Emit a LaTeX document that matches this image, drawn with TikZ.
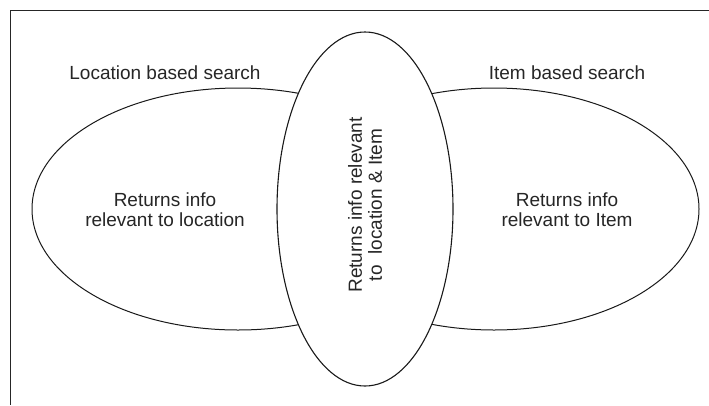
\documentclass[tikz,border=0pt]{standalone}
\usepackage{fontspec}
\setmainfont{Liberation Sans}
\usetikzlibrary{shapes.geometric}
\begin{document}
\begin{tikzpicture}[x=1pt,y=-1pt,
  oval/.style={draw=black!90, line width=1pt, ellipse, inner sep=0pt, fill=white},
  lbl/.style={font=\fontsize{19}{20}\selectfont, text=black!85, align=center, inner sep=0pt},
  frameline/.style={draw=black!85, line width=1.9pt}]
\useasboundingbox (0,0) rectangle (709,405);
\coordinate (tr) at (709,10.5);
\coordinate (bl) at (10.5,405);
\draw[frameline] (tr) -| (bl);
\node[oval, minimum width=412pt, minimum height=242pt] (left) at (238,209) {};
\node[oval, minimum width=410pt, minimum height=242pt] (right) at (494,209) {};
\node[oval, minimum width=176pt, minimum height=354pt, line width=1.1pt] (mid) at (365,209) {};
\node[lbl] (loctitle) at (165,73) {Location based search};
\node[lbl] (itemtitle) at (567,73) {Item based search};
\node[lbl] (loctext) at (165,210) {Returns info\\relevant to location};
\node[lbl] (itemtext) at (567,210) {Returns info\\relevant to Item};
\node[lbl, rotate=90] (midtext) at (365,205) {Returns info relevant\\to\ \ location \& Item};
\end{tikzpicture}
\end{document}
